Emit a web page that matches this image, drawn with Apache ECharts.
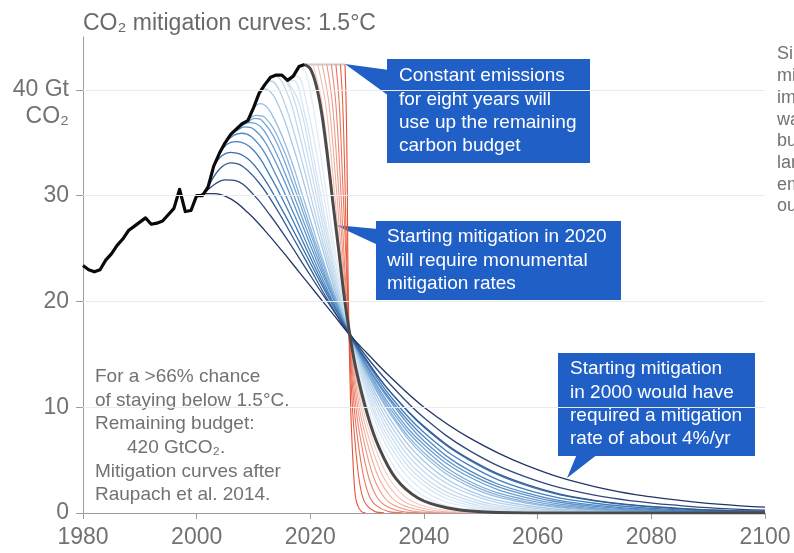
<!DOCTYPE html>
<html><head><meta charset="utf-8">
<script src="https://cdn.jsdelivr.net/npm/echarts@6/dist/echarts.min.js"></script>
<style>html,body{margin:0;padding:0;background:#fff}#c{width:794px;height:553px}</style>
</head><body><div id="c"></div>
<script>
// ---------- data ----------
const xTicks = [1980, 2000, 2020, 2040, 2060, 2080, 2100];
const yTicks = [0, 10, 20, 30, 40];

const histYears = [1980,1981,1982,1983,1984,1985,1986,1987,1988,1989,
                   1990,1991,1992,1993,1994,1995,1996,1997,1998,1999,
                   2000,2001,2002,2003,2004,2005,2006,2007,2008,2009,
                   2010,2011,2012,2013,2014,2015,2016,2017,2018,2019];
const histValues = [23.4,23.0,22.8,23.0,23.9,24.5,25.3,25.9,26.7,27.1,
                    27.5,27.9,27.3,27.4,27.6,28.2,28.8,30.6,28.5,28.6,
                    30.0,30.0,30.8,32.8,34.0,35.0,35.8,36.3,36.8,37.1,
                    38.3,39.7,40.5,41.2,41.4,41.4,40.9,41.3,42.2,42.4];

// mitigation curves starting in a given year (blue family)
const mit2000 = [[2000,30.0],[2001.5,30.2],[2003,30.2],[2006,29.7],[2009,28.4],[2012,26.7],[2015,24.8],[2018,22.8],[2021,20.8],[2024,18.8],[2027,16.8],[2030,15.1],[2034,12.9],[2040,10.0],[2048,7.1],[2058,4.5],[2070,2.5],[2085,1.2],[2100,0.55]];
const mit2001 = [[2001,30.0],[2003,31.0],[2005,31.5],[2007,31.4],[2010,30.1],[2013,28.1],[2016,25.8],[2019,23.3],[2022,20.8],[2025,18.4],[2027,16.9],[2030,14.7],[2034,12.2],[2040,9.0],[2048,5.9],[2058,3.4],[2070,1.7],[2085,0.7],[2100,0.27]];
const mit2002 = [[2002,30.8],[2004,32.5],[2006,33.1],[2008,32.8],[2011,31.2],[2014,28.8],[2017,26.0],[2020,23.1],[2023,20.2],[2027,16.7],[2030,14.3],[2034,11.5],[2040,8.2],[2048,5.1],[2058,2.7],[2070,1.2],[2085,0.44],[2100,0.15]];
const mit2003 = [[2003,32.8],[2004.5,33.8],[2006,34.1],[2009,33.5],[2012,31.5],[2015,28.7],[2018,25.7],[2021,22.6],[2024,19.6],[2027,16.9],[2030,14.4],[2034,11.5],[2040,8.1],[2048,5.0],[2058,2.6],[2070,1.15],[2085,0.4],[2100,0.14]];
const mit2004 = [[2004,34.0],[2005.5,34.9],[2007,35.1],[2010,34.3],[2013,31.8],[2016,28.7],[2019,25.3],[2022,21.9],[2025,18.8],[2027,16.8],[2030,14.2],[2034,11.1],[2040,7.6],[2048,4.5],[2058,2.2],[2070,0.92],[2085,0.3],[2100,0.09]];
const mit2005 = [[2005,35.0],[2006.5,35.7],[2008,35.9],[2011,34.8],[2014,31.9],[2017,28.4],[2020,24.7],[2023,21.1],[2025,18.9],[2027,16.8],[2030,13.9],[2034,10.8],[2040,7.2],[2048,4.0],[2058,1.9],[2070,0.75],[2085,0.22],[2100,0.07]];
const mit2006 = [[2006,35.8],[2007,36.15],[2008.5,36.5],[2010,36.3],[2012,35.1],[2015,31.9],[2018,28.0],[2021,24.0],[2024,20.3],[2027,16.8],[2030,13.9],[2034,10.6],[2040,6.8],[2048,3.7],[2058,1.7],[2070,0.62],[2085,0.17],[2100,0.05]];
const mit2007 = [[2007,36.3],[2008,36.65],[2009.2,36.9],[2010.5,36.8],[2013,35.1],[2016,31.5],[2019,27.3],[2022,23.1],[2025,19.2],[2027,16.8],[2030,13.7],[2034,10.2],[2040,6.45],[2048,3.4],[2058,1.45],[2070,0.5],[2085,0.13],[2100,0.03]];
const mit2008 = [[2008,36.8],[2009,37.0],[2010.2,37.3],[2011.5,37.1],[2014,35.1],[2017,31.0],[2020,26.5],[2023,22.0],[2025,19.3],[2027,16.8],[2030,13.5],[2034,9.9],[2040,6.1],[2048,3.0],[2058,1.24],[2070,0.4],[2085,0.1],[2100,0.02]];
const mit2009 = [[2009,37.1],[2010.5,37.6],[2012,37.4],[2015,34.7],[2018,30.2],[2021,25.4],[2024,20.9],[2027,16.8],[2030,13.3],[2034,9.6],[2040,5.7],[2048,2.75],[2058,1.06],[2070,0.32],[2085,0.08],[2100,0.02]];
const mit2010 = [[2010,38.3],[2011.2,38.7],[2013,37.9],[2016,34.3],[2019,29.4],[2022,24.3],[2024,21.1],[2027,16.8],[2030,13.2],[2034,9.4],[2040,5.4],[2048,2.5],[2058,0.93],[2070,0.27],[2085,0.06],[2100,0.01]];
const mit2011 = [[2011,39.7],[2012,40.1],[2014,39.0],[2017,34.6],[2020,29.0],[2023,23.4],[2025,19.9],[2027,16.8],[2030,12.9],[2034,8.9],[2040,4.9],[2048,2.1],[2058,0.71],[2070,0.18],[2085,0.04],[2100,0.01]];
const mit2012 = [[2012,40.5],[2013,40.85],[2015,39.4],[2018,34.3],[2021,28.0],[2023,24.0],[2025,20.2],[2027,16.8],[2030,12.6],[2034,8.4],[2040,4.4],[2048,1.8],[2058,0.54],[2070,0.12],[2085,0.02],[2100,0]];
const mit2013 = [[2013,41.2],[2013.8,41.3],[2016,39.6],[2018,35.9],[2020,31.4],[2022,26.8],[2024,22.5],[2027,16.8],[2030,12.3],[2034,7.9],[2040,3.9],[2048,1.44],[2058,0.39],[2070,0.08],[2085,0.01],[2100,0]];
const mit2014 = [[2014,41.4],[2015,41.3],[2017,39.3],[2019,35.1],[2021,30.2],[2023,25.3],[2025,20.8],[2027,16.8],[2030,12.0],[2034,7.4],[2040,3.4],[2048,1.17],[2058,0.29],[2070,0.05],[2085,0],[2100,0]];
const mit2015 = [[2015,41.4],[2016,40.8],[2018,38.8],[2020,34.0],[2022,28.6],[2024,23.5],[2025,21.1],[2027,16.8],[2030,11.6],[2034,6.9],[2040,3.0],[2048,0.93],[2058,0.2],[2070,0.03],[2085,0],[2100,0]];
const mit2016 = [[2016,40.9],[2017,40.9],[2019,37.7],[2021,32.4],[2023,26.7],[2025,21.4],[2027,16.8],[2030,11.3],[2034,6.4],[2040,2.6],[2048,0.72],[2058,0.14],[2070,0.02],[2085,0],[2100,0]];
const mit2017 = [[2017,41.3],[2018,41.2],[2019,39.6],[2021,34.3],[2023,28.0],[2025,22.0],[2027,16.8],[2030,10.9],[2034,5.8],[2040,2.1],[2048,0.52],[2058,0.09],[2070,0.01],[2085,0],[2100,0]];
const mit2018 = [[2018,42.2],[2019,41.9],[2020,39.8],[2021,36.8],[2023,29.6],[2025,22.7],[2027,16.8],[2030,10.2],[2034,5.0],[2040,1.6],[2048,0.32],[2058,0.04],[2070,0],[2100,0]];

// constant emissions, then delayed mitigation (red family)
const constantLine = [[2019,42.4],[2026.1,42.4]];
const delay1 = [[2020.5,42.4],[2022.1,38.6],[2023.7,31.2],[2025.2,23.7],[2026.8,17.2],[2028.4,12.2],[2030.0,8.4],[2033.2,3.9],[2036.3,1.7],[2039.5,0.74],[2045.8,0.13],[2052.1,0.02]];
const delay2 = [[2021.3,42.4],[2022.7,38.6],[2024.1,31.2],[2025.4,23.7],[2026.8,17.2],[2028.2,12.2],[2029.6,8.4],[2032.4,3.9],[2035.1,1.7],[2037.9,0.74],[2043.4,0.13],[2048.9,0.02]];
const delay3 = [[2022.1,42.4],[2023.3,38.6],[2024.5,31.2],[2025.6,23.7],[2026.8,17.2],[2028.0,12.2],[2029.2,8.4],[2031.6,3.9],[2033.9,1.7],[2036.3,0.74],[2041.0,0.13],[2045.7,0.02]];
const delay4 = [[2022.9,42.4],[2023.9,38.6],[2024.9,31.2],[2025.8,23.7],[2026.8,17.2],[2027.8,12.2],[2028.8,8.4],[2030.8,3.9],[2032.7,1.7],[2034.7,0.74],[2038.6,0.13],[2042.5,0.02]];
const delay5 = [[2023.7,42.4],[2024.5,38.6],[2025.3,31.2],[2026.0,23.7],[2026.8,17.2],[2027.6,12.2],[2028.4,8.4],[2030.0,3.9],[2031.5,1.7],[2033.1,0.74],[2036.2,0.13],[2039.3,0.02]];
const delay6 = [[2024.5,42.4],[2025.1,38.6],[2025.7,31.2],[2026.3,23.7],[2026.8,17.2],[2027.4,12.2],[2028.0,8.4],[2029.2,3.9],[2030.3,1.7],[2031.5,0.74],[2033.8,0.13],[2036.2,0.02]];
const delay7 = [[2025.3,42.4],[2025.7,38.6],[2026.1,31.2],[2026.4,23.7],[2026.8,17.2],[2027.2,12.2],[2027.6,8.4],[2028.4,3.9],[2029.1,1.7],[2029.9,0.74],[2031.4,0.13],[2033.0,0.02]];
const delay8 = [[2026.1,42.4],[2026.3,38.6],[2026.5,31.2],[2026.6,23.7],[2026.8,17.2],[2027.0,12.2],[2027.2,8.4],[2027.6,3.9],[2027.9,1.7],[2028.3,0.74],[2029.0,0.13],[2029.7,0.02]];

// mitigation starting now (bold grey-black)
const mit2019 = [[2019,42.4],[2020,42.0],[2021,40.5],[2022,37.8],[2023,33.8],[2024,29.2],[2025,24.8],[2026,20.3],[2027,16.7],[2028,13.7],[2030,9.4],[2032,6.3],[2035,3.3],[2039,1.4],[2044,0.5],[2050,0.12],[2060,0.01],[2100,0]];

const gridValues = [10, 20, 30, 40];

// ---------- styling helpers ----------
const FONT = '"Liberation Sans", Arial, Helvetica, sans-serif';
const GREY = '#727272';
const BOX = '#1f5fc6';
const blueSets = [mit2000,mit2001,mit2002,mit2003,mit2004,mit2005,mit2006,mit2007,mit2008,mit2009,
                  mit2010,mit2011,mit2012,mit2013,mit2014,mit2015,mit2016,mit2017,mit2018];
const redSets = [delay1,delay2,delay3,delay4,delay5,delay6,delay7,delay8];
const blueStops = [[0,[36,54,104]],[0.07,[48,78,132]],[0.2,[62,122,186]],[0.45,[122,170,215]],[0.7,[192,216,237]],[1,[226,236,246]]];
const redStops = [[0,[247,206,196]],[1,[230,78,50]]];
function mix(stops, t) {
  for (let i = 0; i < stops.length - 1; i++) {
    const [t0, c0] = stops[i], [t1, c1] = stops[i + 1];
    if (t >= t0 && t <= t1) {
      const f = (t - t0) / (t1 - t0);
      return 'rgb(' + c0.map((c, j) => Math.round(c + (c1[j] - c) * f)).join(',') + ')';
    }
  }
  const c = stops[stops.length - 1][1];
  return 'rgb(' + c.join(',') + ')';
}

const series = [];
series.push({
  type: 'line', data: [[1980, 0]], showSymbol: false, lineStyle: { opacity: 0 }, silent: true, z: 1,
  markLine: { silent: true, symbol: 'none', label: { show: false },
    lineStyle: { color: '#ebebeb', width: 1, type: 'solid' },
    data: gridValues.map(v => ({ yAxis: v })) }
});
// light blue first, darkest on top
for (let k = blueSets.length - 1; k >= 0; k--) {
  series.push({ type: 'line', data: blueSets[k], showSymbol: false, smooth: 0.4, silent: true, z: 2,
    lineStyle: { color: mix(blueStops, k / (blueSets.length - 1)), width: 1.3 } });
}
series.push({ type: 'line', data: constantLine, showSymbol: false, silent: true, z: 2,
  lineStyle: { color: '#cbcbcb', width: 2 } });
redSets.forEach((d, j) => {
  series.push({ type: 'line', data: d, showSymbol: false, smooth: 0.35, silent: true, z: 2,
    lineStyle: { color: mix(redStops, j / (redSets.length - 1)), width: 1.1 } });
});
series.push({ type: 'line', data: mit2019, showSymbol: false, smooth: 0.35, silent: true, z: 3,
  lineStyle: { color: '#4a4a4a', width: 3 } });
series.push({ type: 'line', data: histYears.map((y, i) => [y, histValues[i]]), showSymbol: false, silent: true, z: 4,
  lineStyle: { color: '#0a0a0a', width: 3.2, join: 'round' } });

// ---------- annotations ----------
const graphic = [];
function txt(x, y, text, opts) {
  graphic.push({ type: 'text', x: x, y: y, silent: true,
    style: Object.assign({ text: text, fill: GREY, fontSize: 19, fontFamily: FONT, textVerticalAlign: 'middle' }, opts || {}) });
}
const leftNote = ['For a >66% chance', 'of staying below 1.5°C.', 'Remaining budget:', '420 GtCO₂.', 'Mitigation curves after', 'Raupach et al. 2014.'];
leftNote.forEach((s, i) => txt(i === 3 ? 127 : 95, 377 + i * 23.6, s));
const rightNote = ['Since 2000, the', 'mitigation rate', 'implied by the', 'warming target', 'budget has become', 'larger each year as', 'emissions kept', 'outpacing cuts.'];
rightNote.forEach((s, i) => txt(777, 54.5 + i * 21.7, s, { fontSize: 18 }));

function callout(rect, tri, lines, tx, ty) {
  graphic.push({ type: 'polygon', silent: true, shape: { points: tri }, style: { fill: BOX } });
  graphic.push({ type: 'rect', silent: true, shape: rect, style: { fill: BOX } });
  graphic.push({ type: 'text', silent: true, x: tx, y: ty,
    style: { text: lines.join('\n'), fill: '#ffffff', fontSize: 19, fontFamily: FONT, lineHeight: 23.2, textVerticalAlign: 'top' } });
}
callout({ x: 387, y: 59, width: 203, height: 104 }, [[345, 64], [389, 70], [389, 96]],
  ['Constant emissions', 'for eight years will', 'use up the remaining', 'carbon budget'], 399, 64.5);
callout({ x: 376, y: 221, width: 245, height: 79 }, [[335, 225], [378, 229], [378, 245]],
  ['Starting mitigation in 2020', 'will require monumental', 'mitigation rates'], 387, 225.5);
callout({ x: 558, y: 353, width: 197, height: 103 }, [[567, 478], [577, 454], [598, 454]],
  ['Starting mitigation', 'in 2000 would have', 'required a mitigation', 'rate of about 4%/yr'], 570, 357.5);

const chart = echarts.init(document.getElementById('c'), null, { renderer: 'canvas' });
chart.setOption({
  animation: false,
  backgroundColor: '#ffffff',
  title: { text: 'CO₂ mitigation curves: 1.5°C', left: 83, top: 12, padding: 0,
    textStyle: { fontSize: 23, fontWeight: 'normal', color: '#6a6a6a', fontFamily: FONT } },
  grid: { left: 83, right: 29, top: 37, bottom: 40 },
  xAxis: {
    type: 'value', min: 1980, max: 2100, interval: 20,
    axisLine: { show: true, lineStyle: { color: '#9c9c9c', width: 1 } },
    axisTick: { show: true, length: 6, lineStyle: { color: '#9c9c9c' }, customValues: xTicks },
    axisLabel: { customValues: xTicks, margin: 13, fontSize: 23, color: GREY, fontFamily: FONT,
      formatter: v => String(v) },
    splitLine: { show: false }
  },
  yAxis: {
    type: 'value', min: 0, max: 45, interval: 10,
    axisLine: { show: true, lineStyle: { color: '#9c9c9c', width: 1 } },
    axisTick: { show: true, length: 7, lineStyle: { color: '#9c9c9c' }, customValues: yTicks },
    axisLabel: {
      customValues: yTicks, margin: 14, fontFamily: FONT, color: GREY, fontSize: 23,
      formatter: v => v === 40 ? '{e| }\n{n|40 Gt}\n{n|CO₂}' : '{n|' + v + '}',
      rich: { n: { fontSize: 23, lineHeight: 27, color: GREY, fontFamily: FONT }, e: { fontSize: 23, lineHeight: 27 } }
    },
    splitLine: { show: false }
  },
  series: series,
  graphic: graphic
});
</script></body></html>
